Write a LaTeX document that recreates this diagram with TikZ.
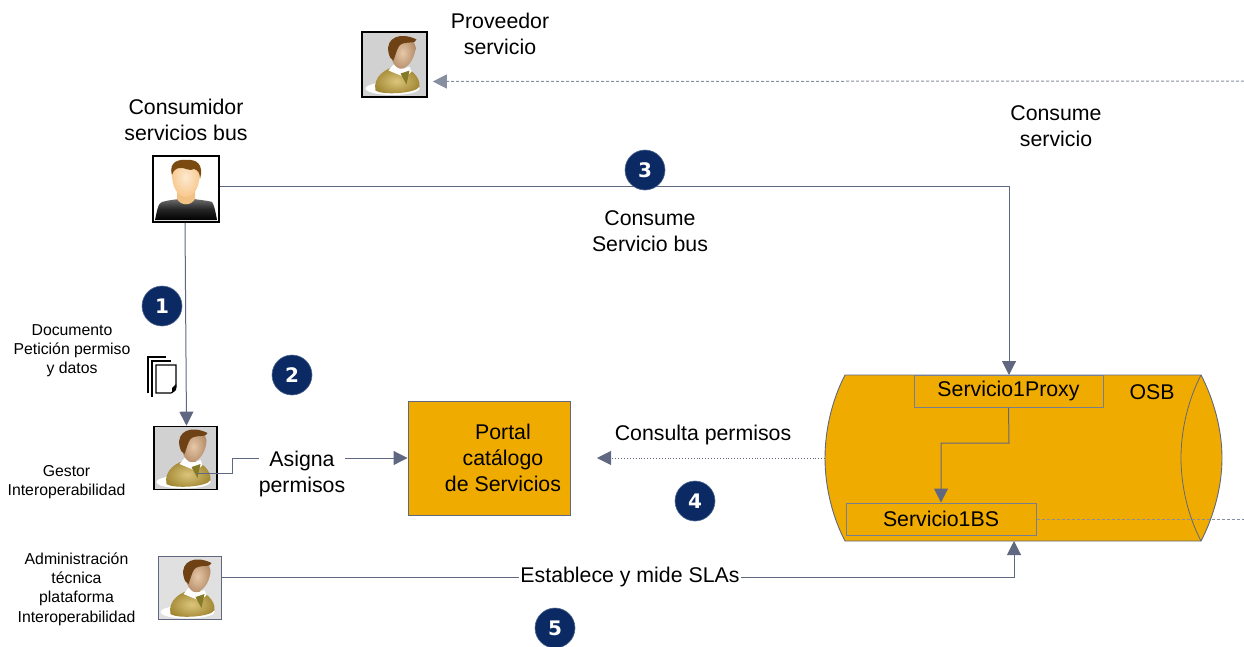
\documentclass[tikz,border=0pt]{standalone}
\usepackage{fontspec}
\setmainfont{Liberation Sans}
\newfontfamily\badgefont{DejaVu Sans}
\usetikzlibrary{arrows.meta,calc,shapes.geometric}
\definecolor{amber}{HTML}{F0AB00}
\definecolor{wire}{HTML}{5F6880}
\definecolor{navy}{HTML}{0B2A63}
\definecolor{hairA}{HTML}{7A4A10}
\definecolor{skinA}{HTML}{F8C88C}
\definecolor{coatin}{HTML}{DCC67C}
\definecolor{coatout}{HTML}{A08632}
\definecolor{oldskinin}{HTML}{E6C8A8}
\definecolor{oldskinout}{HTML}{B58C68}
\definecolor{oldhair}{HTML}{6E4214}
\definecolor{vest}{HTML}{857A28}
\tikzset{
 lbl/.style={inner sep=0pt,align=center,font=\fontsize{21.3}{25.8}\selectfont,text=black},
 small/.style={inner sep=0pt,align=center,font=\fontsize{15.8}{19.3}\selectfont,text=black},
 wireline/.style={draw=wire,line width=1pt},
 tip/.style={-{Triangle[length=14pt,width=14pt]}},
 svcbox/.style={draw=wire!85,line width=1pt,fill=amber,inner sep=0pt,minimum width=189pt,minimum height=32pt,font=\fontsize{21.3}{25.8}\selectfont},
 badge/.style={circle,fill=navy,draw=navy!70,line width=.6pt,minimum size=40pt,inner sep=0pt,text=white,font=\badgefont\bfseries\fontsize{20}{20}\selectfont},
 iconbox/.style={draw=black,line width=1.6pt,minimum size=#1,inner sep=0pt},
 oldman/.pic={
  \fill[white] (-2,24) ellipse (27 and 6.5);
  \shade[inner color=coatin,outer color=coatout] (-19,26) .. controls (-22,12) and (-8,3) .. (3,2) .. controls (15,2) and (26,12) .. (25,22) .. controls (22,29) and (-12,31) .. (-19,26) -- cycle;
  \fill[white] (-6,6) -- (-1,0) -- (9,4) -- (15,2) -- (17,7) -- (11,13) -- cycle;
  \fill[vest] (6,9) -- (15,6) -- (12,20) -- cycle;
  \shade[inner color=oldskinin,outer color=oldskinout] (-4,-16) .. controls (-5,-4) and (2,6) .. (8,4) .. controls (15,2) and (21,-8) .. (21,-18) .. controls (20,-29) and (-2,-29) .. (-4,-16) -- cycle;
  \fill[oldhair] (-6,-12) .. controls (-9,-27) and (6,-33) .. (22,-25) .. controls (22,-20) and (10,-24) .. (5,-19) .. controls (2,-15) and (1,-9) .. (-1,-4) .. controls (-4,-5) and (-5,-8) .. (-6,-12) -- cycle;
 },
 plainman/.pic={
  \shade[top color=black!55,bottom color=black,middle color=black!85] (-31,31) .. controls (-29,22) and (-28,14) .. (-24,13) .. controls (-14,10) and (-8,11) .. (-3,9) -- (4,9) .. controls (10,11) and (20,11) .. (26,13) .. controls (28,15) and (30,25) .. (31,31) -- cycle;
  \fill[skinA!90!brown] (-9,3) -- (9,3) -- (9,10) .. controls (5,17) and (-5,17) .. (-9,10) -- cycle;
  \shade[inner color=skinA!40!white,outer color=skinA] (-14,-18) .. controls (-15,-2) and (-8,8) .. (0,8) .. controls (8,8) and (14,-2) .. (14,-18) .. controls (14,-32) and (-14,-32) .. (-14,-18) -- cycle;
  \fill[hairA] (-14,-14) .. controls (-18,-28) and (-6,-30) .. (1,-29) .. controls (11,-30) and (18,-24) .. (14,-10) .. controls (14,-16) and (12,-19) .. (8,-20) .. controls (4,-17) and (-2,-22) .. (-6,-21) .. controls (-10,-21) and (-13,-18) .. (-14,-14) -- cycle;
 },
 docsheet/.pic={
  \draw[black,line width=1.2pt] (0,36) -- (0,0) -- (18,0);
  \draw[black,line width=1.2pt] (4,40) -- (4,4) -- (23,4);
  \draw[black,line width=1.2pt,fill=white] (8,8) -- (28,8) -- (28,30) -- (26,34) -- (23,36) -- (8,36) -- cycle;
  \fill[black] (28,27) -- (28,33) -- (24,36) -- (24,31) -- cycle;
 },
}
\begin{document}
\begin{tikzpicture}[x=1pt,y=-1pt]
\useasboundingbox (0,0) rectangle (1244,646);
% barrel
\path[fill=amber,draw=wire,line width=.9pt] (845,375) -- (1201,375) .. controls (1214,400) and (1222,430) .. (1222,458) .. controls (1222,486) and (1214,516) .. (1201,541) -- (845,541) .. controls (832,516) and (825,486) .. (825,458) .. controls (825,430) and (832,400) .. (845,375) -- cycle;
\draw[wire,line width=.8pt] (1201,375) .. controls (1188,400) and (1181,430) .. (1181,458) .. controls (1181,486) and (1188,516) .. (1201,541);
\coordinate (barrelwest) at (825,458);
\coordinate (barreltop) at (1009,375);
\coordinate (barrelbottom) at (1014,541);
\coordinate (rightend) at (1244,519);
\coordinate (rightendtop) at (1244,81);
\coordinate (consultatip) at (597,458);
\coordinate (asignaelbow) at (232,458);
\coordinate (proxyelbow) at (1009,443);
% boxes
\node[svcbox,anchor=center] (proxy) at (1008.5,391) {Servicio1Proxy};
\node[svcbox,minimum width=190pt] (bs) at (941,519) {Servicio1BS};
\node[draw=wire,line width=.9pt,fill=amber,inner sep=0pt,minimum width=162pt,minimum height=114pt] (portal) at (489,458) {};
\node[lbl] (portaltext) at (503,458) {Portal\\catálogo\\de Servicios};
% icons
\node[iconbox=65pt,fill=black!18] (proveedor) at (394.5,64.5) {};
\pic at (proveedor) {oldman};
\node[iconbox=66pt,fill=white] (consumidor) at (186,189) {};
\pic at (consumidor) {plainman};
\node[iconbox=63pt,fill=black!18] (gestor) at (185.5,458) {};
\pic at (gestor) {oldman};
\node[draw=wire,line width=1pt,fill=black!12,inner sep=0pt,minimum size=63pt] (admin) at (189.5,588) {};
\pic at (admin) {oldman};
\pic at (148,357) {docsheet};
% labels
\node[lbl] (tconsumidor) at (186,120) {Consumidor\\servicios bus};
\node[lbl] (tproveedor) at (500,34) {Proveedor\\servicio};
\node[lbl] (tconsume) at (1056,126) {Consume\\servicio};
\node[lbl] (tbus) at (650,231) {Consume\\Servicio bus};
\node[small] (tdoc) at (72,350.5) {Documento\\Petición permiso\\y datos};
\node[small] (tgestor) at (66.5,482) {Gestor\\Interoperabilidad};
\node[small] (tadmin) at (76.5,589) {Administración\\técnica\\plataforma\\Interoperabilidad};
\node[lbl,minimum width=86pt] (asigna) at (302,474) {Asigna\\permisos};
\node[lbl] (tconsulta) at (703,435) {Consulta permisos};
\node[lbl] (tosb) at (1152,392) {OSB};
% connectors
\draw[wireline,tip] ([yshift=3pt]consumidor.east) -| (barreltop);
\draw[wireline,tip] ([xshift=-1pt]consumidor.south) -- ([xshift=1pt]gestor.north);
\draw[wireline] ([xshift=11pt,yshift=-15pt]gestor.center) -| (asignaelbow) -- ([yshift=16pt]asigna.west);
\draw[wireline,tip] ([yshift=16pt]asigna.east) -- (portal.west);
\draw[draw=wire,line width=.9pt,dotted,tip] (barrelwest) -- (consultatip);
\draw[wireline,densely dashed,draw=wire!75,tip] (rightendtop) -- ([xshift=5pt,yshift=-17pt]proveedor.east);
\draw[wireline,densely dashed,draw=wire!75] (bs.east) -- (rightend);
\draw[wireline,tip] (proxy.south) -- (proxyelbow) -| (bs.north);
\node[lbl,fill=white,inner xsep=1pt,inner ysep=1pt,minimum height=0pt] (tsla) at (630,577) {Establece y mide SLAs};
\draw[wireline] ([yshift=11pt]admin.east) -- (tsla.west);
\draw[wireline,tip] (tsla.east) -| (barrelbottom);
% badges
\node[badge] (b1) at (162,306) {1};
\node[badge] (b2) at (292,375) {2};
\node[badge] (b3) at (645,170) {3};
\node[badge] (b4) at (695,501) {4};
\node[badge] (b5) at (555,628) {5};
\end{tikzpicture}
\end{document}
